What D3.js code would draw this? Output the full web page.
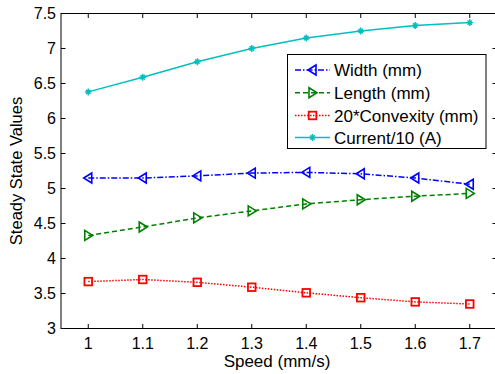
<!DOCTYPE html>
<html>
<head>
<meta charset="utf-8">
<script src="https://cdn.jsdelivr.net/npm/d3@7"></script>
<style>
  body { margin: 0; background: #fff; overflow: hidden; }
  svg { display: block; font-family: "Liberation Sans", Arial, sans-serif; }
</style>
</head>
<body>
<svg id="chart" width="495" height="374"></svg>
<script>
// data
var speed = [1.0, 1.1, 1.2, 1.3, 1.4, 1.5, 1.6, 1.7]
var widthMm = [5.15, 5.15, 5.18, 5.22, 5.23, 5.21, 5.15, 5.06]
var lengthMm = [4.33, 4.45, 4.58, 4.68, 4.78, 4.84, 4.89, 4.93]
var convexity20 = [3.67, 3.70, 3.66, 3.59, 3.51, 3.44, 3.38, 3.35]
var current10 = [6.38, 6.59, 6.81, 7.00, 7.15, 7.25, 7.33, 7.37]
var xTicks = [1, 1.1, 1.2, 1.3, 1.4, 1.5, 1.6, 1.7]
var yTicks = [3, 3.5, 4, 4.5, 5, 5.5, 6, 6.5, 7, 7.5]

var series = [
    {name: "Width (mm)", values: widthMm, color: "#0000ff", dash: "6,2,1.5,2", marker: "left"},
    {name: "Length (mm)", values: lengthMm, color: "#008000", dash: "5,3", marker: "right"},
    {name: "20*Convexity (mm)", values: convexity20, color: "#ff0000", dash: "1.5,1.5", marker: "square"},
    {name: "Current/10 (A)", values: current10, color: "#00bfbf", dash: null, marker: "star"}
]

var svg = d3.select("#chart")
var plotL = 61, plotR = 497, plotT = 13.5, plotB = 328.5

var x = d3.scaleLinear().domain([0.95, 1.75]).range([plotL, plotR])
var y = d3.scaleLinear().domain([3, 7.5]).range([plotB, plotT])

var fmt = d => d3.format("")(d)

// axes box
svg.append("rect")
    .attr("x", plotL).attr("y", plotT)
    .attr("width", plotR - plotL).attr("height", plotB - plotT)
    .attr("fill", "none").attr("stroke", "#000").attr("stroke-width", 1)

var tickLen = 4.5
var axisG = svg.append("g").attr("stroke", "#000").attr("stroke-width", 1)
xTicks.forEach(t => {
    axisG.append("line").attr("x1", x(t)).attr("x2", x(t)).attr("y1", plotB).attr("y2", plotB - tickLen)
    axisG.append("line").attr("x1", x(t)).attr("x2", x(t)).attr("y1", plotT).attr("y2", plotT + tickLen)
})
yTicks.forEach(t => {
    axisG.append("line").attr("x1", plotL).attr("x2", plotL + tickLen).attr("y1", y(t)).attr("y2", y(t))
    axisG.append("line").attr("x1", plotR).attr("x2", plotR - tickLen).attr("y1", y(t)).attr("y2", y(t))
})

svg.append("g").selectAll("text")
    .data(xTicks).enter().append("text")
    .attr("x", d => x(d)).attr("y", plotB + 20)
    .attr("text-anchor", "middle")
    .attr("font-size", 16)
    .text(fmt)

svg.append("g").selectAll("text")
    .data(yTicks).enter().append("text")
    .attr("x", plotL - 5).attr("y", d => y(d)).attr("dy", "0.36em")
    .attr("text-anchor", "end")
    .attr("font-size", 16)
    .text(fmt)

svg.append("text")
    .attr("x", (plotL + plotR) / 2 - 2).attr("y", 367)
    .attr("text-anchor", "middle").attr("font-size", 17)
    .text("Speed (mm/s)")

svg.append("text")
    .attr("transform", `translate(22,${(plotT + plotB) / 2}) rotate(-90)`)
    .attr("text-anchor", "middle").attr("font-size", 16.5)
    .text("Steady State Values")

var line = d3.line().x((d, i) => x(speed[i])).y(d => y(d))

function drawMarker(g, type, cx, cy, color) {
    if (type === "left") {
        g.append("path").attr("d", `M${cx - 4.5},${cy} L${cx + 3.5},${cy - 5} L${cx + 3.5},${cy + 5} Z`)
            .attr("fill", "none").attr("stroke", color).attr("stroke-width", 1.6)
    } else if (type === "right") {
        g.append("path").attr("d", `M${cx + 4.5},${cy} L${cx - 3.5},${cy - 5} L${cx - 3.5},${cy + 5} Z`)
            .attr("fill", "none").attr("stroke", color).attr("stroke-width", 1.6)
    } else if (type === "square") {
        g.append("rect").attr("x", cx - 3.8).attr("y", cy - 3.8).attr("width", 7.6).attr("height", 7.6)
            .attr("fill", "none").attr("stroke", color).attr("stroke-width", 1.8)
    } else {
        g.append("path").attr("d", `M${cx - 3.5},${cy} L${cx + 3.5},${cy} M${cx},${cy - 3.5} L${cx},${cy + 3.5} M${cx - 2.2},${cy - 2.2} L${cx + 2.2},${cy + 2.2} M${cx - 2.2},${cy + 2.2} L${cx + 2.2},${cy - 2.2}`)
            .attr("stroke", color).attr("stroke-width", 1.4)
    }
}

series.forEach(s => {
    var g = svg.append("g")
    g.append("path")
        .attr("d", line(s.values))
        .attr("fill", "none")
        .attr("stroke", s.color)
        .attr("stroke-width", 1.5)
        .attr("stroke-dasharray", s.dash)
    s.values.forEach((v, i) => drawMarker(g, s.marker, x(speed[i]), y(v), s.color))
})

// legend
var lg = svg.append("g")
lg.append("rect")
    .attr("x", 287.5).attr("y", 54.5).attr("width", 198.5).attr("height", 94)
    .attr("fill", "#fff").attr("stroke", "#000").attr("stroke-width", 1)
var legY = [70, 92.7, 115.5, 137.5]
series.forEach((s, i) => {
    var ly = legY[i]
    lg.append("line")
        .attr("x1", 295).attr("x2", 330).attr("y1", ly).attr("y2", ly)
        .attr("stroke", s.color).attr("stroke-width", 1.5)
        .attr("stroke-dasharray", s.dash)
    drawMarker(lg, s.marker, 312.5, ly, s.color)
    lg.append("text")
        .attr("x", 334).attr("y", ly).attr("dy", "0.36em")
        .attr("font-size", 17)
        .text(s.name)
})
</script>
</body>
</html>
